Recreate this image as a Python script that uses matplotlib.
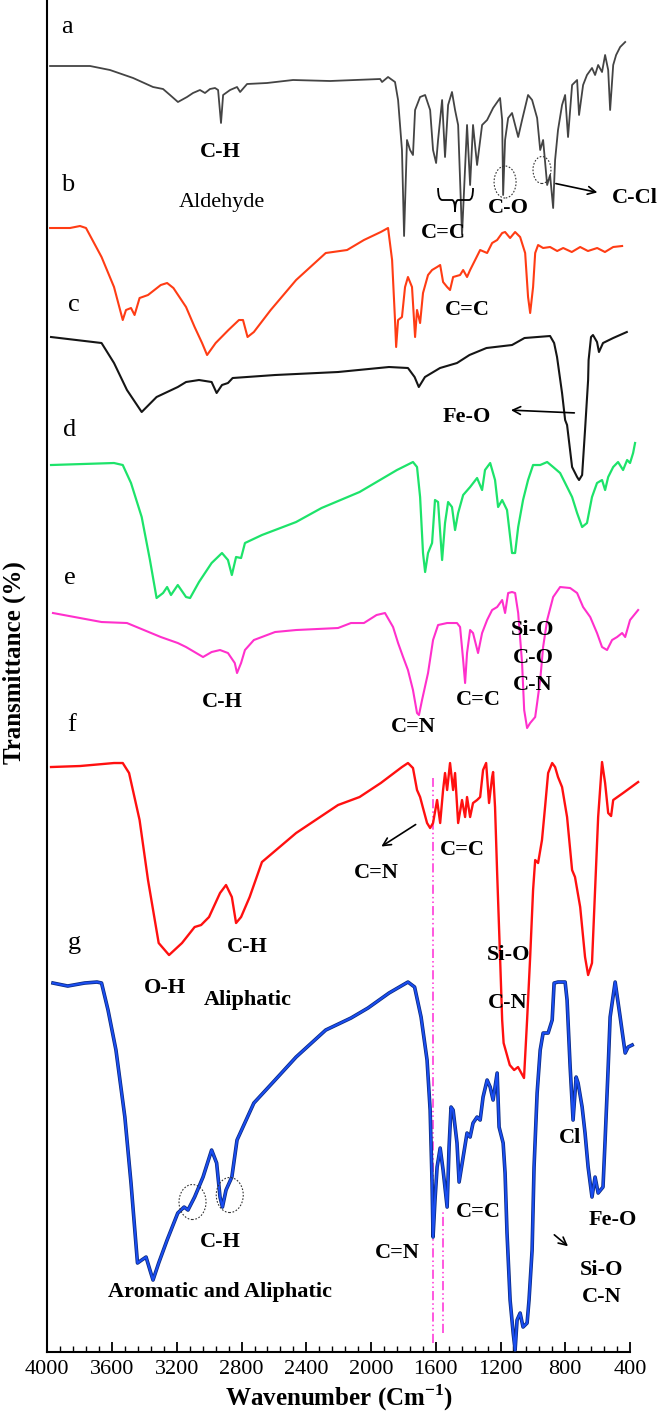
import matplotlib
matplotlib.use("Agg")
import matplotlib.pyplot as plt
import matplotlib.patheffects as pe
from matplotlib.patches import Ellipse, PathPatch
from matplotlib.path import Path
from matplotlib.ticker import MultipleLocator

plt.rcParams['font.family'] = ['Liberation Serif', 'DejaVu Serif']
plt.rcParams['mathtext.fontset'] = 'custom'
plt.rcParams['mathtext.rm'] = 'Liberation Serif'
plt.rcParams['mathtext.bf'] = 'Liberation Serif:bold'

# FTIR spectra, wavenumber (cm-1) vs stacked transmittance (a.u.)
a_wn = [3983, 3736, 3613, 3470, 3347, 3285, 3242, 3193, 3137, 3100, 3057, 3026, 2995, 2964, 2945, 2927,
        2914, 2871, 2828, 2809, 2766, 2643, 2482, 2253, 1944, 1932, 1895, 1852, 1833, 1809, 1796, 1778,
        1759, 1741, 1728, 1697, 1666, 1635, 1617, 1598, 1586, 1561, 1543, 1524, 1500, 1481, 1462, 1438,
        1407, 1388, 1370, 1345, 1314, 1283, 1246, 1203, 1190, 1184, 1172, 1153, 1129, 1110, 1091, 1067,
        1030, 1005, 974, 955, 937, 912, 894, 875, 863, 845, 820, 801, 783, 758, 727, 715, 690, 666, 635,
        616, 597, 573, 554, 535, 523, 504, 486, 461, 430]
a_t = [128.6, 128.6, 128.2, 127.4, 126.5, 126.3, 125.7, 125.0, 125.5, 125.9, 126.2, 125.9, 126.3, 126.4,
       126.2, 122.9, 125.7, 126.2, 126.5, 126.0, 126.8, 126.9, 127.2, 127.1, 127.3, 127.0, 127.5, 127.0,
       125.2, 120.2, 111.6, 121.2, 120.2, 119.7, 124.2, 125.5, 125.7, 124.2, 120.2, 118.9, 121.2, 125.2,
       119.5, 124.7, 126.0, 124.2, 122.7, 111.7, 122.7, 116.7, 122.7, 118.7, 122.7, 123.2, 124.4, 125.4,
       123.2, 115.7, 121.2, 123.4, 123.9, 122.7, 121.5, 123.2, 125.7, 125.2, 123.4, 120.2, 121.2, 116.7,
       117.7, 114.4, 119.2, 122.2, 124.7, 125.7, 121.5, 126.7, 127.2, 123.7, 126.7, 127.7, 128.4, 127.7,
       128.7, 128.0, 129.7, 128.2, 124.2, 128.7, 129.7, 130.5, 131.0]

b_wn = [3983, 3860, 3798, 3761, 3665, 3588, 3534, 3514, 3483, 3461, 3430, 3378, 3299, 3260, 3221, 3143,
        3090, 3044, 3013, 2960, 2881, 2816, 2791, 2763, 2724, 2620, 2463, 2280, 2148, 2044, 1940, 1895,
        1870, 1852, 1845, 1833, 1809, 1790, 1772, 1747, 1728, 1716, 1697, 1679, 1648, 1623, 1592, 1573,
        1555, 1530, 1512, 1493, 1450, 1431, 1407, 1388, 1357, 1326, 1283, 1252, 1221, 1190, 1172, 1141,
        1110, 1079, 1048, 1030, 1017, 999, 986, 968, 937, 894, 850, 813, 760, 708, 660, 603, 555, 504, 449]
b_t = [112.4, 112.4, 112.6, 112.4, 109.5, 106.5, 103.2, 104.2, 104.4, 103.7, 105.4, 105.7, 106.7, 106.9,
       106.4, 104.5, 102.5, 100.9, 99.7, 100.9, 102.2, 103.2, 103.2, 101.5, 102.0, 104.2, 107.2, 109.9,
       110.2, 111.2, 112.0, 112.4, 109.2, 103.2, 100.5, 103.2, 103.5, 106.5, 107.5, 106.5, 101.5, 104.2,
       102.9, 105.9, 107.7, 108.2, 108.5, 108.7, 107.0, 106.5, 106.2, 107.5, 107.7, 108.2, 107.5, 108.2,
       109.2, 110.2, 109.9, 110.9, 111.2, 111.9, 112.0, 111.4, 112.0, 111.5, 109.9, 105.5, 103.9, 106.5,
       109.9, 110.7, 110.4, 110.5, 110.1, 110.4, 110.0, 110.5, 110.1, 110.4, 110.0, 110.5, 110.6]

c_wn = [3977, 3665, 3588, 3508, 3417, 3325, 3194, 3143, 3063, 2985, 2954, 2921, 2884, 2855, 2593, 2204,
        1889, 1772, 1731, 1705, 1667, 1574, 1469, 1392, 1287, 1129, 1052, 894, 869, 851, 820, 801, 789,
        758, 727, 715, 696, 678, 659, 656, 641, 629, 604, 592, 567, 504, 420]
c_t = [101.5, 100.9, 98.9, 96.2, 94.0, 95.5, 96.5, 97.0, 97.2, 97.0, 95.9, 96.7, 96.9, 97.4, 97.7, 98.0,
       98.5, 98.4, 97.5, 96.5, 97.5, 98.4, 98.9, 99.7, 100.4, 100.7, 101.4, 101.6, 100.9, 99.5, 95.9, 93.2,
       92.7, 88.5, 87.5, 87.2, 87.7, 92.2, 97.2, 99.2, 101.5, 101.7, 101.0, 100.0, 100.9, 101.4, 102.0]

d_wn = [3977, 3588, 3534, 3483, 3417, 3366, 3325, 3285, 3260, 3236, 3194, 3143, 3118, 3063, 2985, 2921,
        2884, 2860, 2834, 2803, 2779, 2674, 2463, 2306, 2071, 1840, 1741, 1716, 1697, 1679, 1666, 1648,
        1623, 1605, 1586, 1561, 1543, 1524, 1500, 1481, 1462, 1431, 1388, 1345, 1314, 1296, 1264, 1234,
        1215, 1190, 1160, 1129, 1110, 1091, 1061, 1030, 999, 955, 912, 875, 832, 801, 758, 727, 696, 666,
        635, 604, 573, 554, 535, 504, 474, 443, 418, 400, 381, 369]
d_t = [88.7, 88.9, 88.7, 86.9, 83.5, 79.2, 75.4, 75.9, 76.5, 75.7, 76.7, 75.5, 75.4, 77.0, 78.9, 79.9,
       79.2, 77.7, 79.5, 79.4, 80.9, 81.7, 83.0, 84.4, 86.0, 88.2, 89.0, 88.5, 85.5, 79.9, 78.0, 79.9,
       80.9, 85.2, 85.0, 79.2, 82.9, 85.0, 84.5, 82.2, 83.9, 85.7, 86.5, 87.4, 86.2, 88.2, 88.9, 87.2,
       84.5, 85.2, 84.2, 79.9, 79.9, 82.5, 85.2, 87.2, 88.7, 88.7, 89.0, 88.5, 87.9, 86.9, 85.5, 83.9,
       82.5, 82.9, 85.5, 86.9, 87.2, 86.2, 87.5, 88.5, 89.0, 88.2, 89.2, 88.9, 89.9, 90.9]

e_wn = [3965, 3665, 3508, 3299, 3194, 3143, 3038, 2985, 2933, 2884, 2842, 2828, 2803, 2779, 2724, 2593,
        2463, 2204, 2124, 2044, 1966, 1914, 1864, 1833, 1802, 1772, 1741, 1716, 1704, 1685, 1648, 1617,
        1586, 1530, 1469, 1450, 1431, 1419, 1407, 1388, 1370, 1339, 1314, 1283, 1252, 1221, 1190, 1172,
        1153, 1129, 1110, 1091, 1067, 1054, 1036, 1017, 986, 974, 955, 937, 912, 875, 832, 770, 727, 690,
        646, 604, 573, 542, 511, 480, 449, 430, 400, 350]
e_t = [73.9, 73.0, 72.9, 71.5, 70.9, 70.5, 69.5, 70.0, 70.2, 69.9, 68.9, 67.9, 68.9, 70.2, 71.2, 72.0,
       72.2, 72.4, 72.9, 72.9, 73.7, 73.9, 72.5, 70.9, 69.5, 68.2, 66.2, 63.9, 63.7, 65.2, 67.9, 71.2,
       72.7, 72.9, 72.9, 72.5, 69.2, 66.9, 69.9, 72.2, 71.9, 69.9, 71.9, 73.2, 74.2, 74.5, 75.2, 73.9,
       75.9, 76.0, 75.9, 73.9, 68.9, 64.2, 62.4, 62.9, 63.5, 64.9, 67.2, 70.5, 73.2, 75.5, 76.5, 76.4,
       75.9, 74.5, 73.5, 71.9, 70.5, 70.2, 71.2, 71.5, 71.9, 71.5, 73.2, 74.2]

f_wn = [3977, 3798, 3588, 3534, 3495, 3430, 3378, 3312, 3248, 3168, 3090, 3050, 3001, 2933, 2896, 2860,
        2834, 2803, 2750, 2674, 2463, 2204, 2071, 1940, 1809, 1772, 1741, 1716, 1697, 1679, 1654, 1635,
        1617, 1592, 1573, 1555, 1543, 1530, 1512, 1493, 1481, 1462, 1438, 1419, 1407, 1388, 1370, 1345,
        1326, 1308, 1289, 1271, 1252, 1246, 1234, 1221, 1203, 1190, 1181, 1143, 1116, 1092, 1055, 1036,
        1017, 999, 986, 968, 944, 925, 906, 881, 863, 845, 820, 789, 758, 740, 708, 678, 659, 635, 616,
        597, 573, 554, 535, 517, 504, 443, 350]
f_t = [58.5, 58.6, 58.9, 58.9, 57.9, 53.2, 47.2, 40.9, 39.7, 40.9, 42.5, 42.7, 43.5, 45.9, 46.7, 45.5,
       42.9, 43.5, 45.5, 49.0, 51.9, 54.7, 55.5, 56.9, 58.5, 58.9, 58.4, 56.2, 55.5, 54.4, 52.9, 52.4,
       52.9, 55.2, 52.9, 56.2, 57.9, 56.2, 58.9, 56.2, 57.9, 52.9, 55.2, 53.5, 55.5, 53.5, 54.9, 55.2,
       55.5, 58.2, 58.9, 54.9, 57.5, 58.0, 54.5, 47.9, 39.5, 33.2, 30.9, 28.7, 28.2, 28.5, 27.4, 33.2,
       39.5, 46.2, 49.2, 48.9, 51.2, 54.5, 57.9, 58.9, 58.5, 57.5, 56.5, 53.5, 48.2, 47.5, 44.5, 39.5,
       37.7, 38.9, 46.2, 53.5, 59.0, 56.9, 53.9, 53.6, 55.2, 55.9, 57.0]

g_wn = [3965, 3874, 3770, 3693, 3665, 3625, 3576, 3521, 3483, 3443, 3417, 3390, 3366, 3347, 3312, 3260,
        3194, 3155, 3131, 3090, 3038, 2985, 2954, 2933, 2918, 2896, 2860, 2828, 2724, 2593, 2463, 2280,
        2124, 2019, 1889, 1772, 1731, 1691, 1654, 1635, 1623, 1617, 1605, 1592, 1573, 1555, 1530, 1518,
        1506, 1493, 1469, 1456, 1431, 1407, 1388, 1370, 1345, 1326, 1308, 1283, 1264, 1246, 1221, 1209,
        1184, 1172, 1160, 1141, 1122, 1110, 1098, 1079, 1061, 1036, 1024, 1005, 993, 974, 955, 937, 906,
        881, 869, 845, 801, 789, 770, 752, 733, 721, 696, 678, 659, 635, 616, 597, 567, 554, 535, 523,
        492, 461, 430, 412, 387]
g_t = [36.9, 36.6, 36.9, 37.0, 36.9, 34.2, 30.2, 23.5, 16.9, 8.9, 9.2, 9.5, 8.2, 7.2, 8.9, 11.2, 13.9,
       14.5, 14.2, 15.5, 17.5, 20.2, 18.9, 15.5, 14.5, 16.2, 17.5, 21.2, 24.9, 27.2, 29.5, 32.2, 33.4,
       34.4, 35.9, 37.0, 36.5, 33.5, 29.2, 24.2, 16.9, 11.5, 15.2, 18.5, 20.4, 18.2, 14.5, 20.5, 24.5,
       24.2, 20.9, 17.0, 19.5, 21.9, 21.5, 22.9, 23.5, 23.2, 25.5, 27.2, 26.5, 25.2, 27.9, 22.5, 20.9,
       17.9, 11.9, 5.2, 1.9, 0.2, 3.2, 3.9, 2.5, 2.9, 5.2, 10.2, 18.5, 25.9, 30.2, 31.9, 31.9, 33.2, 36.9,
       37.0, 37.0, 35.2, 28.5, 23.2, 27.5, 26.9, 24.5, 21.9, 18.5, 15.5, 17.5, 15.9, 16.5, 21.2, 28.5,
       33.5, 37.0, 33.5, 29.9, 30.5, 30.7]

curves = [(a_wn, a_t, '#444444', 1.3), (b_wn, b_t, '#ff3c14', 1.5), (c_wn, c_t, '#151515', 1.5),
          (d_wn, d_t, '#1de36a', 1.6), (e_wn, e_t, '#ff30cc', 1.5), (f_wn, f_t, '#ff1010', 1.7)]

# panel letters
letters = ['a', 'b', 'c', 'd', 'e', 'f', 'g']
letter_wn = [3878, 3872, 3835, 3860, 3860, 3847, 3835]
letter_t = [132.5, 116.7, 104.7, 92.2, 77.4, 62.7, 40.9]

# band labels (bold)
band_text = ['C-H', 'C=C', 'C-O', 'C-Cl', 'C=C', 'Fe-O', 'C-H', 'C=N', 'C=C', 'Si-O', 'C-O', 'C-N',
             'C=N', 'C=C', 'O-H', 'C-H', 'Aliphatic', 'Si-O', 'C-N',
             'C-H', 'Aromatic and Aliphatic', 'C=N', 'C=C', 'Cl', 'Fe-O', 'Si-O', 'C-N']
band_wn = [2933, 1555, 1153, 369, 1407, 1407, 2921, 1741, 1339, 1000, 1000, 1000,
           1969, 1438, 3272, 2766, 2763, 1153, 1153,
           2933, 2933, 1836, 1339, 770, 504, 573, 573]
band_t = [120.0, 111.9, 114.4, 115.4, 104.2, 93.5, 65.0, 62.5, 65.2, 72.2, 69.4, 66.7,
          47.9, 50.2, 36.4, 40.5, 35.2, 39.7, 34.9,
          11.0, 6.0, 9.9, 14.0, 21.4, 13.2, 8.2, 5.5]

fig = plt.figure(figsize=(6.6, 14.25), dpi=100)
ax = fig.add_axes([0.0717, 0.0512, 0.8829, 0.9488])

for wn, t, col, lw in curves:
    ax.plot(wn, t, color=col, lw=lw, clip_on=False, zorder=3)
ax.plot(g_wn, g_t, color='#1a4df0', lw=1.5, clip_on=False, zorder=3,
        path_effects=[pe.Stroke(linewidth=2.6, foreground='#0a2a80'), pe.Normal()])

# dash-dot guide lines at C=N bands
ax.plot([1618, 1618], [0.9, 57.4], color='#ff2bd6', lw=1.1, ls=(0, (6, 2, 1, 2, 1, 2)), zorder=2)
ax.plot([1556, 1556], [1.9, 14.2], color='#ff2bd6', lw=1.1, ls=(0, (6, 2, 1, 2, 1, 2)), zorder=2)

for s, x, y in zip(letters, letter_wn, letter_t):
    ax.text(x, y, s, fontsize=19, ha='center', va='center')
for s, x, y in zip(band_text, band_wn, band_t):
    ax.text(x, y, s, fontsize=16, fontweight='bold', ha='center', va='center', zorder=4)
ax.text(2921, 115.0, 'Aldehyde', fontsize=16, ha='center', va='center')

# dotted circles around bands
for x, y, w, h in [(1172, 117.0, 136, 3.2), (944, 118.2, 111, 2.7),
                   (3103, 15.0, 167, 3.5), (2873, 15.7, 167, 3.5)]:
    ax.add_patch(Ellipse((x, y), w, h, fill=False, ls=(0, (1.5, 1.5)), lw=0.8, ec='#333333', zorder=5))

# brace over C=C of spectrum a
verts = [(1586, 116.4), (1586, 115.2), (1560, 115.2), (1500, 115.2), (1481, 115.2), (1481, 114.0),
         (1481, 115.2), (1462, 115.2), (1395, 115.2), (1370, 115.2), (1370, 116.4)]
codes = [Path.MOVETO, Path.CURVE3, Path.CURVE3, Path.LINETO, Path.CURVE3, Path.CURVE3,
         Path.CURVE3, Path.CURVE3, Path.LINETO, Path.CURVE3, Path.CURVE3]
ax.add_patch(PathPatch(Path(verts, codes), fill=False, lw=1.3, ec='black', zorder=5))

arrows = [((875, 116.9), (585, 115.9)), ((727, 93.9), (1153, 94.2)),
          ((1710, 52.9), (1951, 50.4)), ((881, 11.9), (770, 10.4))]
for (x0, y0), (x1, y1) in arrows:
    ax.annotate('', xy=(x1, y1), xytext=(x0, y0),
                arrowprops=dict(arrowstyle='->', lw=1.2, color='black', mutation_scale=14))

ax.set_xlim(4000, 400)
ax.set_ylim(0, 135.2)
ax.spines['top'].set_visible(False)
ax.spines['right'].set_visible(False)
ax.spines['left'].set_linewidth(1.5)
ax.spines['bottom'].set_linewidth(1.5)
ax.set_yticks([])
ax.xaxis.set_major_locator(MultipleLocator(400))
ax.xaxis.set_minor_locator(MultipleLocator(80))
ax.tick_params(axis='x', which='major', direction='in', length=7, width=1.3, labelsize=16, pad=6)
ax.tick_params(axis='x', which='minor', direction='in', length=4, width=1.0)
ax.set_xlabel(r'Wavenumber (Cm$^{\mathbf{-1}}$)', fontsize=18, fontweight='bold', labelpad=2)
ax.set_ylabel('Transmittance (%)', fontsize=18, fontweight='bold')
ax.yaxis.set_label_coords(-0.036, 0.51)

fig.savefig('out.png', dpi=100)
